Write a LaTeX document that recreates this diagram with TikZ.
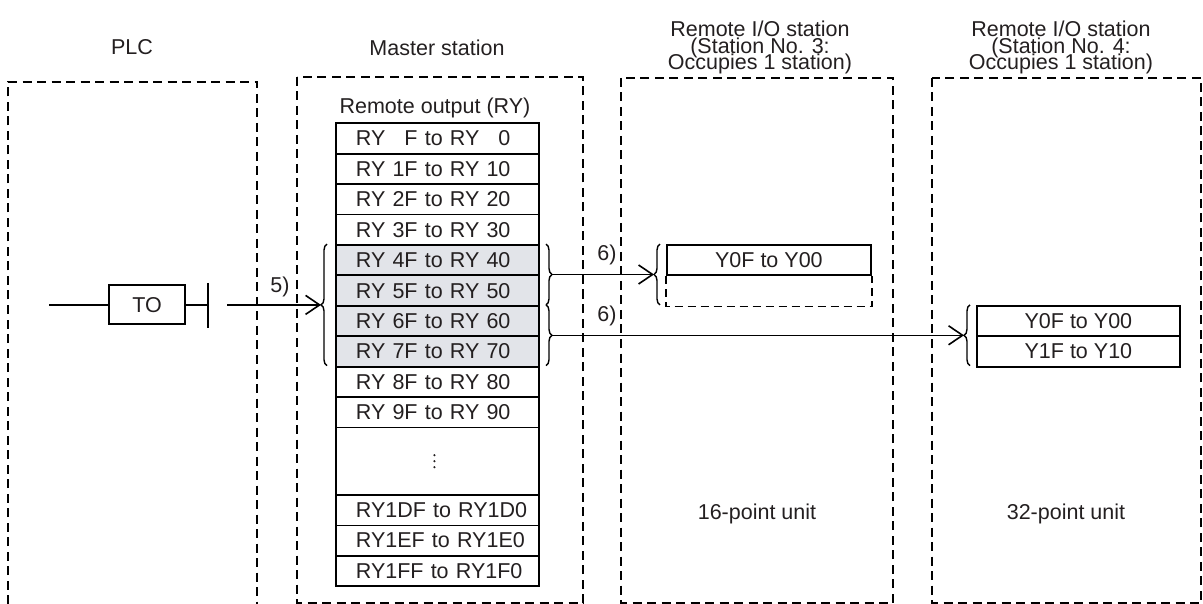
\documentclass[tikz,border=0pt]{standalone}
\usepackage{fontspec}
\setmainfont{Liberation Sans}
\usetikzlibrary{arrows.meta,decorations.pathreplacing}
\definecolor{txt}{HTML}{231F20}
\definecolor{shade}{HTML}{E2E4E9}
\newcommand{\myfont}{\fontsize{21.5}{16.4}\selectfont\lineskiplimit -40pt\relax}
\begin{document}
\begin{tikzpicture}[x=1pt,y=-1pt,
  font=\myfont,
  text=txt, line width=1.6pt,
  dbox/.style={draw, dash pattern=on 9pt off 5.5pt, line width=1.6pt},
  row/.style={draw, line width=1.8pt, minimum width=203pt, minimum height=30.4pt,
    inner xsep=20pt, inner ysep=0pt, text width=163pt, align=left, anchor=north west},
  shaded/.style={row, fill=shade},
  ybox/.style={draw, line width=1.8pt, minimum width=204pt, minimum height=30.4pt,
    inner sep=0pt, anchor=north west},
  lbl/.style={inner sep=0pt},
  brc/.style={decorate, decoration={brace, amplitude=6pt}, line width=1.4pt},
  arr/.style={-{Straight Barb[length=14pt,width=19pt]}}]
\useasboundingbox (0,0) rectangle (1203,604);

% titles
\node[lbl] (tplc) at (132,47.5) {PLC};
\node[lbl] (tmas) at (437,47.5) {Master station};
\node[lbl, align=center, anchor=north] (ts3) at (760,20.5) {Remote I/O station\\(Station No. 3:\\Occupies 1 station)};
\node[lbl, align=center, anchor=north] (ts4) at (1061,20.5) {Remote I/O station\\(Station No. 4:\\Occupies 1 station)};

% dashed frames
\draw[dbox] (8,604) -- (8,82) -- (257,82) -- (257,604);
\draw[dbox] (297,77) rectangle (583,603);
\draw[dbox] (621,78) rectangle (893,603);
\draw[dbox] (932,78) rectangle (1201,603);

% master table
\node[lbl] (trem) at (435,108) {Remote output (RY)};
\node[row] (r1) at (335,122.5) {RY \phantom{1}F to RY \phantom{1}0};
\node[row] (r2) at (335,152.9) {RY 1F to RY 10};
\node[row] (r3) at (335,183.3) {RY 2F to RY 20};
\node[row] (r4) at (335,213.7) {RY 3F to RY 30};
\node[shaded] (r5) at (335,244.1) {RY 4F to RY 40};
\node[shaded] (r6) at (335,274.5) {RY 5F to RY 50};
\node[shaded] (r7) at (335,304.9) {RY 6F to RY 60};
\node[shaded] (r8) at (335,335.3) {RY 7F to RY 70};
\node[row] (r9) at (335,365.7) {RY 8F to RY 80};
\node[row] (r10) at (335,396.1) {RY 9F to RY 90};
\node[row, minimum height=67.6pt] (rd) at (335,426.5) {};
\node[row] (r11) at (335,494.1) {\mbox{RY1DF to RY1D0}};
\node[row, minimum height=30.2pt] (r12) at (335,524.5) {\mbox{RY1EF to RY1E0}};
\node[row, minimum height=30.2pt] (r13) at (335,554.7) {\mbox{RY1FF to RY1F0}};
\fill[txt] ([xshift=-3pt,yshift=6pt]rd.center) circle (1.2pt)
           ([xshift=-3pt]rd.center) circle (1.2pt)
           ([xshift=-3pt,yshift=-6pt]rd.center) circle (1.2pt);

% PLC instruction
\node[draw, line width=1.8pt, minimum width=76pt, minimum height=39pt, inner sep=0pt] (to) at (147,304.9) {TO};
\coordinate (l0) at (49,304.9);
\coordinate (bar) at (208,304.9);
\coordinate (a0) at (227,304.9);
\draw (l0) -- (to.west);
\draw (to.east) -- (bar);
\draw ([yshift=22pt]bar) -- ([yshift=-23pt]bar);

% braces
\draw[brc] (327,365.7) -- (327,244.1);
\coordinate (bL) at (321,304.9);
\draw[brc] (546,244.1) -- (546,304.9);
\coordinate (bR1) at (552,274.5);
\draw[brc] (546,304.9) -- (546,365.7);
\coordinate (bR2) at (552,335.3);

% station 3
\node[ybox] (s3a) at (666,244.1) {Y0F to Y00};
\draw[dash pattern=on 8pt off 5pt, line width=1.6pt] (s3a.south west) -- ++(0,30.4) -| (s3a.south east);
\draw[brc] (660,304.9) -- (660,244.1);
\coordinate (bS3) at (654,274.5);

% station 4
\node[ybox, minimum width=203pt] (s4a) at (976,304.9) {Y0F to Y00};
\node[ybox, minimum width=203pt] (s4b) at (976,335.3) {Y1F to Y10};
\draw[brc] (970,365.7) -- (970,304.9);
\coordinate (bS4) at (964,335.3);

% arrows
\draw[arr] (a0) -- (bL);
\node[lbl] (n5) at (280,287) {5)};
\draw[arr] (bR1) -- (bS3);
\draw[arr] (bR2) -- (bS4);
\node[lbl] (n6a) at (607,255) {6)};
\node[lbl] (n6b) at (607,316) {6)};

% unit labels
\node[lbl] (u16) at (757,514) {16-point unit};
\node[lbl] (u32) at (1066,514) {32-point unit};
\end{tikzpicture}
\end{document}
